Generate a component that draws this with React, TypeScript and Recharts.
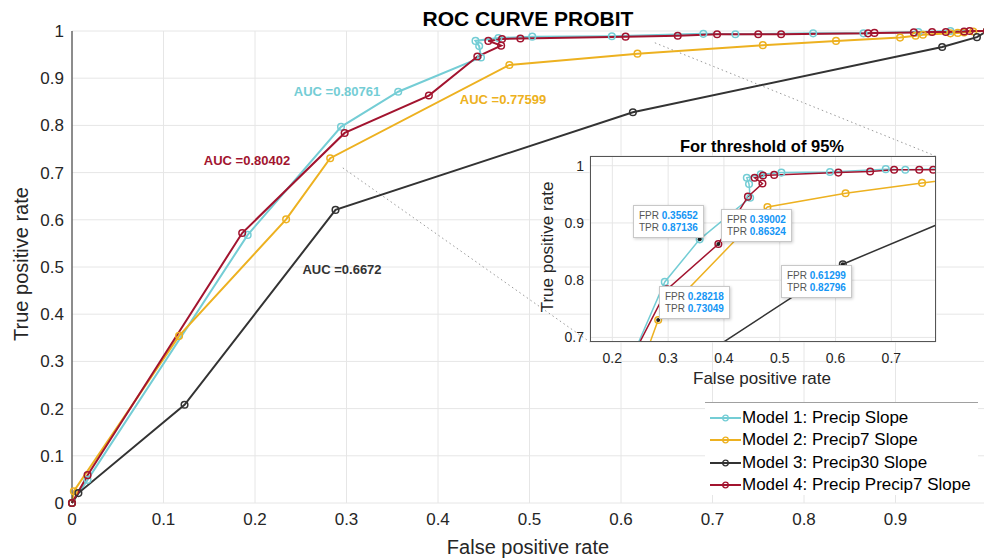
import React from "react";
import { LineChart, Line, XAxis, YAxis, CartesianGrid, ReferenceLine, ReferenceDot } from "recharts";

const FONT = "'Liberation Sans', Arial, Helvetica, sans-serif";

const CYAN = "#74CDD5";
const YELLOW = "#EDB120";
const BLACK = "#333333";
const RED = "#A2142F";

const MODEL_NAMES = ["Model 1: Precip Slope", "Model 2: Precip7 Slope", "Model 3: Precip30 Slope", "Model 4: Precip Precip7 Slope"];
const AUC_VALUES = ["0.80761", "0.77599", "0.6672", "0.80402"];

const M1_FPR = [0, 0.017, 0.192, 0.294, 0.35652, 0.447, 0.445, 0.441, 0.466, 0.503, 0.59, 0.69, 0.725, 0.81, 0.865, 0.925, 0.96, 1];
const M1_TPR = [0, 0.049, 0.568, 0.797, 0.87136, 0.944, 0.968, 0.979, 0.985, 0.988, 0.989, 0.994, 0.993, 0.995, 0.995, 0.998, 1, 1];

const M2_FPR = [0, 0.002, 0.117, 0.234, 0.28218, 0.478, 0.618, 0.755, 0.835, 0.905, 0.922, 0.93, 0.96, 0.968, 0.975, 0.985, 1];
const M2_TPR = [0, 0.025, 0.354, 0.601, 0.73049, 0.928, 0.952, 0.97, 0.979, 0.986, 0.99, 0.992, 0.995, 0.996, 0.997, 0.999, 1];

const M3_FPR = [0, 0.007, 0.123, 0.288, 0.61299, 0.951, 0.989, 1];
const M3_TPR = [0, 0.021, 0.208, 0.621, 0.82796, 0.966, 0.987, 1];

const M4_FPR = [0, 0.017, 0.186, 0.298, 0.39002, 0.443, 0.469, 0.455, 0.47, 0.49, 0.605, 0.662, 0.705, 0.75, 0.775, 0.87, 0.877, 0.92, 0.94, 0.955, 0.975, 0.981, 1];
const M4_TPR = [0, 0.059, 0.572, 0.784, 0.86324, 0.946, 0.969, 0.979, 0.983, 0.984, 0.988, 0.99, 0.993, 0.993, 0.993, 0.995, 0.996, 0.997, 0.998, 0.998, 0.999, 1, 1];

// data tips shown in the zoomed inset
const TIP_FPR = ["0.35652", "0.39002", "0.28218", "0.61299"];
const TIP_TPR = ["0.87136", "0.86324", "0.73049", "0.82796"];

const X_TICKS = [0, 0.1, 0.2, 0.3, 0.4, 0.5, 0.6, 0.7, 0.8, 0.9];
const Y_TICKS = [0, 0.1, 0.2, 0.3, 0.4, 0.5, 0.6, 0.7, 0.8, 0.9, 1];
const INSET_X_TICKS = [0.2, 0.3, 0.4, 0.5, 0.6, 0.7];
const INSET_Y_TICKS = [0.7, 0.8, 0.9, 1];

const toPts = (fpr: number[], tpr: number[]) => fpr.map((x, i) => ({ x, y: tpr[i] }));

const SERIES = [
  { name: MODEL_NAMES[0], color: CYAN, data: toPts(M1_FPR, M1_TPR) },
  { name: MODEL_NAMES[1], color: YELLOW, data: toPts(M2_FPR, M2_TPR) },
  { name: MODEL_NAMES[2], color: BLACK, data: toPts(M3_FPR, M3_TPR) },
  { name: MODEL_NAMES[3], color: RED, data: toPts(M4_FPR, M4_TPR) },
];

function Txt({ x, y, children, style }: { x: number; y: number; children: React.ReactNode; style?: React.CSSProperties }) {
  return (
    <div
      style={{
        position: "absolute", left: x, top: y, transform: "translate(-50%, -50%)",
        whiteSpace: "nowrap", lineHeight: 1, fontFamily: FONT, ...style,
      }}
    >
      {children}
    </div>
  );
}

function DataTip({ left, top, i }: { left: number; top: number; i: number }) {
  const lab = { color: "#555" };
  const val = { color: "#1496f5", fontWeight: 700 };
  return (
    <div
      style={{
        position: "absolute", left, top, background: "#fff", border: "1px solid #c8c8c8",
        boxShadow: "1px 1px 3px rgba(0,0,0,0.2)", padding: "4px 5px 3px 5px",
        fontFamily: FONT, fontSize: 10, lineHeight: "12px", whiteSpace: "nowrap",
      }}
    >
      <div><span style={lab}>FPR </span><span style={val}>{TIP_FPR[i]}</span></div>
      <div><span style={lab}>TPR </span><span style={val}>{TIP_TPR[i]}</span></div>
    </div>
  );
}

export default function App() {
  const tick = { fontSize: 17, fill: "#262626", fontFamily: FONT };
  const insetTick = { fontSize: 14, fill: "#262626", fontFamily: FONT };
  return (
    <div style={{ position: "relative", width: 984, height: 560, background: "#fff", overflow: "hidden" }}>
      <style>{`body{margin:0}`}</style>

      <LineChart width={984} height={560} margin={{ top: 31, right: -3, bottom: 0, left: 0 }}>
        <CartesianGrid stroke="#e6e6e6" strokeWidth={1} />
        <XAxis
          type="number" dataKey="x" domain={[0, 1]} ticks={X_TICKS} height={57}
          axisLine={false} tickLine={false} tickSize={0} tickMargin={10} tick={tick}
        />
        <YAxis
          type="number" dataKey="y" domain={[0, 1]} ticks={Y_TICKS} width={72}
          axisLine={{ stroke: "#262626" }} tickLine={false} tickSize={0} tickMargin={8} tick={tick}
        />
        <ReferenceLine segment={[{ x: 0.296, y: 0.71 }, { x: 0.566, y: 0.341 }]} stroke="#9a9a9a" strokeDasharray="1.5 3" />
        <ReferenceLine segment={[{ x: 0.637, y: 0.975 }, { x: 0.944, y: 0.735 }]} stroke="#9a9a9a" strokeDasharray="1.5 3" />
        {SERIES.map((s) => (
          <Line
            key={s.name} data={s.data} dataKey="y" name={s.name} stroke={s.color} strokeWidth={2}
            dot={{ r: 3.3, fill: "none", stroke: s.color, strokeWidth: 1.5 }}
            isAnimationActive={false} type="linear"
          />
        ))}
      </LineChart>

      <Txt x={528} y={18} style={{ fontSize: 21, fontWeight: 700, color: "#000" }}>ROC CURVE PROBIT</Txt>
      <Txt x={528} y={547} style={{ fontSize: 20, color: "#262626" }}>False positive rate</Txt>
      <Txt x={21} y={264} style={{ fontSize: 20, color: "#262626", transform: "translate(-50%, -50%) rotate(-90deg)" }}>True positive rate</Txt>

      <Txt x={337} y={91} style={{ fontSize: 13, fontWeight: 700, color: CYAN }}>AUC ={AUC_VALUES[0]}</Txt>
      <Txt x={503} y={99} style={{ fontSize: 13, fontWeight: 700, color: YELLOW }}>AUC ={AUC_VALUES[1]}</Txt>
      <Txt x={342} y={269} style={{ fontSize: 13, fontWeight: 700, color: BLACK }}>AUC ={AUC_VALUES[2]}</Txt>
      <Txt x={247} y={160} style={{ fontSize: 13, fontWeight: 700, color: RED }}>AUC ={AUC_VALUES[3]}</Txt>

      {/* zoomed inset */}
      <div style={{ position: "absolute", left: 530, top: 130 }}>
        <LineChart width={420} height={260} margin={{ top: 26, right: 14, bottom: 0, left: 0 }}>
          <CartesianGrid stroke="#e6e6e6" fill="#fff" fillOpacity={1} />
          <XAxis
            type="number" dataKey="x" domain={[0.16, 0.78]} allowDataOverflow ticks={INSET_X_TICKS} height={48}
            axisLine={false} tickLine={false} tickSize={0} tickMargin={11} tick={insetTick}
          />
          <YAxis
            type="number" dataKey="y" domain={[0.692, 1.017]} allowDataOverflow ticks={INSET_Y_TICKS} width={60}
            axisLine={false} tickLine={false} tickSize={0} tickMargin={6} tick={insetTick}
          />
          {SERIES.map((s) => (
            <Line
              key={s.name} data={s.data} dataKey="y" stroke={s.color} strokeWidth={1.5}
              dot={{ r: 3.3, fill: "none", stroke: s.color, strokeWidth: 1.5 }}
              isAnimationActive={false} type="linear"
            />
          ))}
          {TIP_FPR.map((fx, i) => (
            <ReferenceDot key={fx} x={Number(fx)} y={Number(TIP_TPR[i])} r={2} fill="#222" stroke="none" />
          ))}
        </LineChart>
        <div style={{ position: "absolute", left: 60, top: 26, width: 346, height: 186, border: "1px solid #555", boxSizing: "border-box", pointerEvents: "none" }} />
      </div>
      <Txt x={762} y={146} style={{ fontSize: 16.5, fontWeight: 700, color: "#000" }}>For threshold of 95%</Txt>
      <Txt x={762} y={378} style={{ fontSize: 17, color: "#262626" }}>False positive rate</Txt>
      <Txt x={547} y={247} style={{ fontSize: 17, color: "#262626", transform: "translate(-50%, -50%) rotate(-90deg)" }}>True positive rate</Txt>

      <DataTip left={633} top={205} i={0} />
      <DataTip left={721} top={209} i={1} />
      <DataTip left={659} top={286} i={2} />
      <DataTip left={781} top={265} i={3} />

      {/* legend */}
      <div style={{ position: "absolute", left: 705, top: 402, width: 273, height: 92, background: "#fff", borderTop: "1px solid #a0a0a0", fontFamily: FONT }}>
        {SERIES.map((s, i) => (
          <div key={s.name} style={{ position: "absolute", left: 5, top: 4 + i * 22.3, height: 22, display: "flex", alignItems: "center" }}>
            <svg width={31} height={10} style={{ marginRight: 1 }}>
              <line x1={0} y1={5} x2={31} y2={5} stroke={s.color} strokeWidth={2} />
              <circle cx={15.5} cy={5} r={2.8} fill="none" stroke={s.color} strokeWidth={1.3} />
            </svg>
            <span style={{ fontSize: 17, color: "#000" }}>{s.name}</span>
          </div>
        ))}
      </div>
    </div>
  );
}
